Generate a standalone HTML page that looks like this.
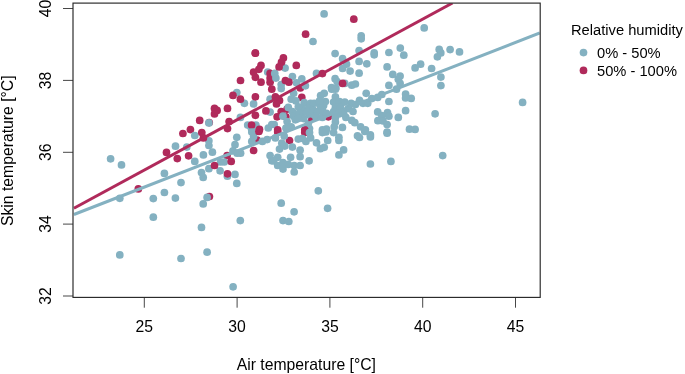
<!DOCTYPE html>
<html><head><meta charset="utf-8"><style>
html,body{margin:0;padding:0;background:#fff;}
body{width:685px;height:374px;overflow:hidden;font-family:"Liberation Sans",sans-serif;}
svg{display:block;will-change:transform;opacity:0.999}
text{font-family:"Liberation Sans",sans-serif;fill:#000}
</style></head><body>
<svg width="685" height="374" viewBox="0 0 685 374">
<defs><clipPath id="c"><rect x="73.4" y="3.2" width="466.4" height="294"/></clipPath></defs>
<g clip-path="url(#c)">
<circle cx="227.4" cy="176.2" r="3.85" fill="#84b1c1"/><circle cx="300.3" cy="88.0" r="3.85" fill="#b02a5b"/><circle cx="209.2" cy="122.6" r="3.85" fill="#b02a5b"/><circle cx="110.6" cy="158.8" r="3.85" fill="#84b1c1"/><circle cx="121.5" cy="164.9" r="3.85" fill="#84b1c1"/><circle cx="175.5" cy="146.2" r="3.85" fill="#84b1c1"/><circle cx="186.8" cy="147.1" r="3.85" fill="#84b1c1"/><circle cx="182.9" cy="133.5" r="3.85" fill="#b02a5b"/><circle cx="190.4" cy="129.6" r="3.85" fill="#b02a5b"/><circle cx="166.5" cy="152.4" r="3.85" fill="#b02a5b"/><circle cx="177.3" cy="158.6" r="3.85" fill="#b02a5b"/><circle cx="188.6" cy="155.8" r="3.85" fill="#b02a5b"/><circle cx="305.6" cy="34.2" r="3.85" fill="#b02a5b"/><circle cx="255.3" cy="53.1" r="3.85" fill="#b02a5b"/><circle cx="324.1" cy="13.9" r="3.85" fill="#84b1c1"/><circle cx="313.0" cy="41.5" r="3.85" fill="#84b1c1"/><circle cx="361.2" cy="35.8" r="3.85" fill="#84b1c1"/><circle cx="361.2" cy="38.8" r="3.85" fill="#84b1c1"/><circle cx="424.2" cy="27.9" r="3.85" fill="#84b1c1"/><circle cx="353.8" cy="19.2" r="3.85" fill="#b02a5b"/><circle cx="439.2" cy="49.4" r="3.85" fill="#84b1c1"/><circle cx="440.8" cy="52.9" r="3.85" fill="#84b1c1"/><circle cx="437.4" cy="56.8" r="3.85" fill="#84b1c1"/><circle cx="450.1" cy="49.6" r="3.85" fill="#84b1c1"/><circle cx="459.5" cy="51.9" r="3.85" fill="#84b1c1"/><circle cx="267.7" cy="72.0" r="3.85" fill="#84b1c1"/><circle cx="255.4" cy="53.2" r="3.85" fill="#b02a5b"/><circle cx="261.0" cy="65.4" r="3.85" fill="#b02a5b"/><circle cx="258.9" cy="69.3" r="3.85" fill="#b02a5b"/><circle cx="253.6" cy="72.2" r="3.85" fill="#b02a5b"/><circle cx="255.4" cy="77.3" r="3.85" fill="#b02a5b"/><circle cx="261.0" cy="82.2" r="3.85" fill="#b02a5b"/><circle cx="240.5" cy="80.5" r="3.85" fill="#b02a5b"/><circle cx="270.1" cy="73.4" r="3.85" fill="#b02a5b"/><circle cx="270.1" cy="78.1" r="3.85" fill="#b02a5b"/><circle cx="270.1" cy="82.2" r="3.85" fill="#b02a5b"/><circle cx="335.1" cy="53.6" r="3.85" fill="#84b1c1"/><circle cx="342.6" cy="58.7" r="3.85" fill="#84b1c1"/><circle cx="346.5" cy="64.2" r="3.85" fill="#84b1c1"/><circle cx="342.6" cy="68.5" r="3.85" fill="#84b1c1"/><circle cx="350.1" cy="71.1" r="3.85" fill="#84b1c1"/><circle cx="285.1" cy="68.1" r="3.85" fill="#84b1c1"/><circle cx="274.8" cy="73.4" r="3.85" fill="#84b1c1"/><circle cx="275.9" cy="78.1" r="3.85" fill="#84b1c1"/><circle cx="292.4" cy="76.6" r="3.85" fill="#84b1c1"/><circle cx="301.8" cy="78.9" r="3.85" fill="#84b1c1"/><circle cx="296.5" cy="82.8" r="3.85" fill="#84b1c1"/><circle cx="281.2" cy="84.6" r="3.85" fill="#84b1c1"/><circle cx="305.4" cy="85.8" r="3.85" fill="#84b1c1"/><circle cx="316.5" cy="73.4" r="3.85" fill="#84b1c1"/><circle cx="335.1" cy="78.7" r="3.85" fill="#84b1c1"/><circle cx="337.1" cy="81.6" r="3.85" fill="#84b1c1"/><circle cx="344.8" cy="83.4" r="3.85" fill="#84b1c1"/><circle cx="331.5" cy="87.5" r="3.85" fill="#84b1c1"/><circle cx="335.9" cy="88.0" r="3.85" fill="#84b1c1"/><circle cx="351.8" cy="85.2" r="3.85" fill="#84b1c1"/><circle cx="283.4" cy="57.9" r="3.85" fill="#b02a5b"/><circle cx="281.5" cy="62.2" r="3.85" fill="#b02a5b"/><circle cx="279.1" cy="66.9" r="3.85" fill="#b02a5b"/><circle cx="296.3" cy="65.4" r="3.85" fill="#b02a5b"/><circle cx="322.4" cy="73.6" r="3.85" fill="#b02a5b"/><circle cx="285.4" cy="80.5" r="3.85" fill="#b02a5b"/><circle cx="288.9" cy="82.2" r="3.85" fill="#b02a5b"/><circle cx="342.6" cy="83.4" r="3.85" fill="#b02a5b"/><circle cx="359.1" cy="50.5" r="3.85" fill="#84b1c1"/><circle cx="374.2" cy="52.8" r="3.85" fill="#84b1c1"/><circle cx="374.2" cy="54.8" r="3.85" fill="#84b1c1"/><circle cx="388.9" cy="52.5" r="3.85" fill="#84b1c1"/><circle cx="400.3" cy="48.1" r="3.85" fill="#84b1c1"/><circle cx="403.8" cy="55.2" r="3.85" fill="#84b1c1"/><circle cx="359.1" cy="61.4" r="3.85" fill="#84b1c1"/><circle cx="366.8" cy="63.8" r="3.85" fill="#84b1c1"/><circle cx="387.1" cy="66.9" r="3.85" fill="#84b1c1"/><circle cx="359.1" cy="73.2" r="3.85" fill="#84b1c1"/><circle cx="355.4" cy="84.0" r="3.85" fill="#84b1c1"/><circle cx="392.8" cy="74.4" r="3.85" fill="#84b1c1"/><circle cx="400.1" cy="76.0" r="3.85" fill="#84b1c1"/><circle cx="398.3" cy="79.3" r="3.85" fill="#84b1c1"/><circle cx="400.1" cy="83.4" r="3.85" fill="#84b1c1"/><circle cx="388.9" cy="85.4" r="3.85" fill="#84b1c1"/><circle cx="415.1" cy="67.9" r="3.85" fill="#84b1c1"/><circle cx="420.6" cy="64.2" r="3.85" fill="#84b1c1"/><circle cx="431.6" cy="68.5" r="3.85" fill="#84b1c1"/><circle cx="236.8" cy="92.5" r="3.85" fill="#84b1c1"/><circle cx="244.4" cy="103.3" r="3.85" fill="#84b1c1"/><circle cx="253.6" cy="103.9" r="3.85" fill="#84b1c1"/><circle cx="240.4" cy="117.4" r="3.85" fill="#84b1c1"/><circle cx="208.9" cy="122.9" r="3.85" fill="#84b1c1"/><circle cx="247.7" cy="125.1" r="3.85" fill="#84b1c1"/><circle cx="255.9" cy="125.1" r="3.85" fill="#84b1c1"/><circle cx="251.6" cy="129.2" r="3.85" fill="#84b1c1"/><circle cx="270.1" cy="112.1" r="3.85" fill="#84b1c1"/><circle cx="270.1" cy="99.2" r="3.85" fill="#84b1c1"/><circle cx="268.3" cy="128.0" r="3.85" fill="#84b1c1"/><circle cx="271.8" cy="124.5" r="3.85" fill="#84b1c1"/><circle cx="233.0" cy="95.4" r="3.85" fill="#b02a5b"/><circle cx="240.4" cy="99.2" r="3.85" fill="#b02a5b"/><circle cx="255.4" cy="96.8" r="3.85" fill="#b02a5b"/><circle cx="214.5" cy="108.4" r="3.85" fill="#b02a5b"/><circle cx="217.1" cy="110.4" r="3.85" fill="#b02a5b"/><circle cx="214.5" cy="113.9" r="3.85" fill="#b02a5b"/><circle cx="227.5" cy="108.4" r="3.85" fill="#b02a5b"/><circle cx="255.4" cy="115.3" r="3.85" fill="#b02a5b"/><circle cx="265.9" cy="110.9" r="3.85" fill="#b02a5b"/><circle cx="199.7" cy="120.4" r="3.85" fill="#b02a5b"/><circle cx="229.1" cy="121.5" r="3.85" fill="#b02a5b"/><circle cx="227.5" cy="128.6" r="3.85" fill="#b02a5b"/><circle cx="251.6" cy="125.1" r="3.85" fill="#b02a5b"/><circle cx="259.5" cy="129.4" r="3.85" fill="#b02a5b"/><circle cx="271.8" cy="89.2" r="3.85" fill="#b02a5b"/><circle cx="301.8" cy="97.4" r="3.85" fill="#b02a5b"/><circle cx="275.4" cy="96.8" r="3.85" fill="#b02a5b"/><circle cx="279.5" cy="100.4" r="3.85" fill="#b02a5b"/><circle cx="276.5" cy="103.9" r="3.85" fill="#b02a5b"/><circle cx="281.2" cy="111.5" r="3.85" fill="#b02a5b"/><circle cx="277.1" cy="116.8" r="3.85" fill="#b02a5b"/><circle cx="285.9" cy="116.8" r="3.85" fill="#b02a5b"/><circle cx="328.3" cy="116.8" r="3.85" fill="#b02a5b"/><circle cx="287.1" cy="109.2" r="3.85" fill="#b02a5b"/><circle cx="281.2" cy="88.6" r="3.85" fill="#84b1c1"/><circle cx="293.6" cy="93.3" r="3.85" fill="#84b1c1"/><circle cx="291.2" cy="99.2" r="3.85" fill="#84b1c1"/><circle cx="295.9" cy="100.9" r="3.85" fill="#84b1c1"/><circle cx="288.3" cy="107.4" r="3.85" fill="#84b1c1"/><circle cx="292.4" cy="111.5" r="3.85" fill="#84b1c1"/><circle cx="293.6" cy="116.2" r="3.85" fill="#84b1c1"/><circle cx="295.4" cy="119.8" r="3.85" fill="#84b1c1"/><circle cx="283.0" cy="116.2" r="3.85" fill="#84b1c1"/><circle cx="287.1" cy="121.5" r="3.85" fill="#84b1c1"/><circle cx="274.2" cy="124.5" r="3.85" fill="#84b1c1"/><circle cx="285.9" cy="128.0" r="3.85" fill="#84b1c1"/><circle cx="291.2" cy="126.8" r="3.85" fill="#84b1c1"/><circle cx="304.2" cy="102.7" r="3.85" fill="#84b1c1"/><circle cx="301.8" cy="108.6" r="3.85" fill="#84b1c1"/><circle cx="301.8" cy="113.9" r="3.85" fill="#84b1c1"/><circle cx="303.6" cy="118.6" r="3.85" fill="#84b1c1"/><circle cx="308.3" cy="123.3" r="3.85" fill="#84b1c1"/><circle cx="309.5" cy="128.6" r="3.85" fill="#84b1c1"/><circle cx="310.6" cy="103.3" r="3.85" fill="#84b1c1"/><circle cx="314.2" cy="103.3" r="3.85" fill="#84b1c1"/><circle cx="308.3" cy="108.6" r="3.85" fill="#84b1c1"/><circle cx="313.0" cy="109.8" r="3.85" fill="#84b1c1"/><circle cx="317.7" cy="111.5" r="3.85" fill="#84b1c1"/><circle cx="315.4" cy="116.2" r="3.85" fill="#84b1c1"/><circle cx="322.4" cy="117.4" r="3.85" fill="#84b1c1"/><circle cx="309.5" cy="115.1" r="3.85" fill="#84b1c1"/><circle cx="320.6" cy="95.6" r="3.85" fill="#84b1c1"/><circle cx="324.2" cy="93.3" r="3.85" fill="#84b1c1"/><circle cx="325.4" cy="101.5" r="3.85" fill="#84b1c1"/><circle cx="323.6" cy="105.6" r="3.85" fill="#84b1c1"/><circle cx="322.4" cy="110.4" r="3.85" fill="#84b1c1"/><circle cx="331.8" cy="89.2" r="3.85" fill="#84b1c1"/><circle cx="335.4" cy="89.2" r="3.85" fill="#84b1c1"/><circle cx="335.4" cy="96.8" r="3.85" fill="#84b1c1"/><circle cx="333.6" cy="102.1" r="3.85" fill="#84b1c1"/><circle cx="339.5" cy="101.5" r="3.85" fill="#84b1c1"/><circle cx="335.4" cy="107.4" r="3.85" fill="#84b1c1"/><circle cx="340.6" cy="107.4" r="3.85" fill="#84b1c1"/><circle cx="333.6" cy="111.5" r="3.85" fill="#84b1c1"/><circle cx="338.9" cy="113.9" r="3.85" fill="#84b1c1"/><circle cx="343.6" cy="113.3" r="3.85" fill="#84b1c1"/><circle cx="335.4" cy="117.4" r="3.85" fill="#84b1c1"/><circle cx="335.4" cy="122.1" r="3.85" fill="#84b1c1"/><circle cx="334.2" cy="126.8" r="3.85" fill="#84b1c1"/><circle cx="342.4" cy="127.4" r="3.85" fill="#84b1c1"/><circle cx="322.4" cy="129.8" r="3.85" fill="#84b1c1"/><circle cx="326.5" cy="129.2" r="3.85" fill="#84b1c1"/><circle cx="351.2" cy="103.3" r="3.85" fill="#84b1c1"/><circle cx="348.3" cy="108.6" r="3.85" fill="#84b1c1"/><circle cx="351.8" cy="120.4" r="3.85" fill="#84b1c1"/><circle cx="277.7" cy="129.8" r="3.85" fill="#b02a5b"/><circle cx="304.8" cy="129.8" r="3.85" fill="#b02a5b"/><circle cx="366.2" cy="93.3" r="3.85" fill="#84b1c1"/><circle cx="359.5" cy="100.4" r="3.85" fill="#84b1c1"/><circle cx="355.4" cy="104.5" r="3.85" fill="#84b1c1"/><circle cx="363.0" cy="103.3" r="3.85" fill="#84b1c1"/><circle cx="367.7" cy="103.3" r="3.85" fill="#84b1c1"/><circle cx="371.8" cy="98.6" r="3.85" fill="#84b1c1"/><circle cx="377.7" cy="97.4" r="3.85" fill="#84b1c1"/><circle cx="381.8" cy="94.5" r="3.85" fill="#84b1c1"/><circle cx="396.5" cy="89.2" r="3.85" fill="#84b1c1"/><circle cx="388.9" cy="101.5" r="3.85" fill="#84b1c1"/><circle cx="405.6" cy="94.1" r="3.85" fill="#84b1c1"/><circle cx="405.6" cy="98.0" r="3.85" fill="#84b1c1"/><circle cx="411.2" cy="98.4" r="3.85" fill="#84b1c1"/><circle cx="405.6" cy="110.7" r="3.85" fill="#84b1c1"/><circle cx="398.3" cy="117.4" r="3.85" fill="#84b1c1"/><circle cx="377.7" cy="111.9" r="3.85" fill="#84b1c1"/><circle cx="387.5" cy="112.7" r="3.85" fill="#84b1c1"/><circle cx="381.8" cy="115.6" r="3.85" fill="#84b1c1"/><circle cx="388.9" cy="116.2" r="3.85" fill="#84b1c1"/><circle cx="377.9" cy="120.7" r="3.85" fill="#84b1c1"/><circle cx="383.0" cy="120.9" r="3.85" fill="#84b1c1"/><circle cx="387.1" cy="124.5" r="3.85" fill="#84b1c1"/><circle cx="353.0" cy="111.5" r="3.85" fill="#84b1c1"/><circle cx="354.8" cy="122.7" r="3.85" fill="#84b1c1"/><circle cx="360.6" cy="126.8" r="3.85" fill="#84b1c1"/><circle cx="365.4" cy="129.8" r="3.85" fill="#84b1c1"/><circle cx="387.1" cy="132.0" r="3.85" fill="#84b1c1"/><circle cx="409.5" cy="129.2" r="3.85" fill="#84b1c1"/><circle cx="415.1" cy="129.4" r="3.85" fill="#84b1c1"/><circle cx="435.1" cy="113.8" r="3.85" fill="#84b1c1"/><circle cx="257.1" cy="140.0" r="3.85" fill="#b02a5b"/><circle cx="227.1" cy="155.5" r="3.85" fill="#b02a5b"/><circle cx="194.8" cy="135.5" r="3.85" fill="#84b1c1"/><circle cx="208.9" cy="140.8" r="3.85" fill="#84b1c1"/><circle cx="208.9" cy="145.5" r="3.85" fill="#84b1c1"/><circle cx="236.8" cy="137.3" r="3.85" fill="#84b1c1"/><circle cx="235.0" cy="144.7" r="3.85" fill="#84b1c1"/><circle cx="233.0" cy="150.8" r="3.85" fill="#84b1c1"/><circle cx="237.1" cy="153.2" r="3.85" fill="#84b1c1"/><circle cx="240.6" cy="153.2" r="3.85" fill="#84b1c1"/><circle cx="253.6" cy="136.7" r="3.85" fill="#84b1c1"/><circle cx="251.8" cy="141.4" r="3.85" fill="#84b1c1"/><circle cx="262.4" cy="141.4" r="3.85" fill="#84b1c1"/><circle cx="267.1" cy="139.6" r="3.85" fill="#84b1c1"/><circle cx="212.4" cy="152.2" r="3.85" fill="#84b1c1"/><circle cx="203.4" cy="154.9" r="3.85" fill="#84b1c1"/><circle cx="194.8" cy="161.4" r="3.85" fill="#84b1c1"/><circle cx="220.6" cy="162.0" r="3.85" fill="#84b1c1"/><circle cx="224.2" cy="162.0" r="3.85" fill="#84b1c1"/><circle cx="208.9" cy="168.7" r="3.85" fill="#84b1c1"/><circle cx="220.1" cy="170.8" r="3.85" fill="#84b1c1"/><circle cx="201.5" cy="172.6" r="3.85" fill="#84b1c1"/><circle cx="235.0" cy="174.4" r="3.85" fill="#84b1c1"/><circle cx="270.1" cy="155.5" r="3.85" fill="#84b1c1"/><circle cx="271.8" cy="160.8" r="3.85" fill="#84b1c1"/><circle cx="251.8" cy="132.0" r="3.85" fill="#84b1c1"/><circle cx="201.8" cy="132.6" r="3.85" fill="#b02a5b"/><circle cx="203.4" cy="137.9" r="3.85" fill="#b02a5b"/><circle cx="253.6" cy="150.5" r="3.85" fill="#b02a5b"/><circle cx="231.2" cy="161.4" r="3.85" fill="#b02a5b"/><circle cx="214.5" cy="165.5" r="3.85" fill="#b02a5b"/><circle cx="227.5" cy="173.8" r="3.85" fill="#b02a5b"/><circle cx="258.9" cy="131.4" r="3.85" fill="#b02a5b"/><circle cx="277.7" cy="132.0" r="3.85" fill="#b02a5b"/><circle cx="304.8" cy="132.6" r="3.85" fill="#b02a5b"/><circle cx="289.5" cy="140.5" r="3.85" fill="#b02a5b"/><circle cx="275.4" cy="137.9" r="3.85" fill="#84b1c1"/><circle cx="284.2" cy="136.1" r="3.85" fill="#84b1c1"/><circle cx="281.8" cy="143.2" r="3.85" fill="#84b1c1"/><circle cx="279.5" cy="149.1" r="3.85" fill="#84b1c1"/><circle cx="284.8" cy="146.1" r="3.85" fill="#84b1c1"/><circle cx="292.4" cy="147.1" r="3.85" fill="#84b1c1"/><circle cx="298.3" cy="139.1" r="3.85" fill="#84b1c1"/><circle cx="302.4" cy="138.5" r="3.85" fill="#84b1c1"/><circle cx="305.9" cy="141.4" r="3.85" fill="#84b1c1"/><circle cx="310.6" cy="137.9" r="3.85" fill="#84b1c1"/><circle cx="309.5" cy="132.6" r="3.85" fill="#84b1c1"/><circle cx="316.5" cy="142.8" r="3.85" fill="#84b1c1"/><circle cx="320.4" cy="148.7" r="3.85" fill="#84b1c1"/><circle cx="324.2" cy="147.3" r="3.85" fill="#84b1c1"/><circle cx="327.7" cy="140.5" r="3.85" fill="#84b1c1"/><circle cx="322.4" cy="132.6" r="3.85" fill="#84b1c1"/><circle cx="325.9" cy="132.0" r="3.85" fill="#84b1c1"/><circle cx="333.6" cy="132.6" r="3.85" fill="#84b1c1"/><circle cx="338.9" cy="137.3" r="3.85" fill="#84b1c1"/><circle cx="338.9" cy="140.5" r="3.85" fill="#84b1c1"/><circle cx="343.6" cy="149.9" r="3.85" fill="#84b1c1"/><circle cx="338.9" cy="154.9" r="3.85" fill="#84b1c1"/><circle cx="300.1" cy="150.2" r="3.85" fill="#84b1c1"/><circle cx="300.1" cy="156.7" r="3.85" fill="#84b1c1"/><circle cx="309.1" cy="160.8" r="3.85" fill="#84b1c1"/><circle cx="290.6" cy="157.3" r="3.85" fill="#84b1c1"/><circle cx="277.7" cy="157.3" r="3.85" fill="#84b1c1"/><circle cx="273.6" cy="160.8" r="3.85" fill="#84b1c1"/><circle cx="277.7" cy="165.5" r="3.85" fill="#84b1c1"/><circle cx="283.0" cy="162.6" r="3.85" fill="#84b1c1"/><circle cx="288.3" cy="164.4" r="3.85" fill="#84b1c1"/><circle cx="283.0" cy="169.1" r="3.85" fill="#84b1c1"/><circle cx="294.2" cy="165.5" r="3.85" fill="#84b1c1"/><circle cx="300.1" cy="165.5" r="3.85" fill="#84b1c1"/><circle cx="294.2" cy="172.0" r="3.85" fill="#84b1c1"/><circle cx="357.5" cy="135.8" r="3.85" fill="#84b1c1"/><circle cx="359.5" cy="137.5" r="3.85" fill="#84b1c1"/><circle cx="370.4" cy="134.9" r="3.85" fill="#84b1c1"/><circle cx="370.4" cy="136.9" r="3.85" fill="#84b1c1"/><circle cx="387.1" cy="133.2" r="3.85" fill="#84b1c1"/><circle cx="364.8" cy="131.4" r="3.85" fill="#84b1c1"/><circle cx="370.4" cy="164.0" r="3.85" fill="#84b1c1"/><circle cx="390.9" cy="161.4" r="3.85" fill="#84b1c1"/><circle cx="209.4" cy="196.5" r="3.85" fill="#b02a5b"/><circle cx="203.2" cy="177.4" r="3.85" fill="#84b1c1"/><circle cx="236.8" cy="183.4" r="3.85" fill="#84b1c1"/><circle cx="207.1" cy="197.4" r="3.85" fill="#84b1c1"/><circle cx="203.2" cy="203.9" r="3.85" fill="#84b1c1"/><circle cx="201.5" cy="227.4" r="3.85" fill="#84b1c1"/><circle cx="240.3" cy="220.6" r="3.85" fill="#84b1c1"/><circle cx="281.2" cy="203.2" r="3.85" fill="#84b1c1"/><circle cx="294.1" cy="211.8" r="3.85" fill="#84b1c1"/><circle cx="283.0" cy="220.6" r="3.85" fill="#84b1c1"/><circle cx="288.8" cy="221.5" r="3.85" fill="#84b1c1"/><circle cx="318.3" cy="190.8" r="3.85" fill="#84b1c1"/><circle cx="327.6" cy="208.3" r="3.85" fill="#84b1c1"/><circle cx="440.9" cy="77.1" r="3.85" fill="#84b1c1"/><circle cx="440.9" cy="85.6" r="3.85" fill="#84b1c1"/><circle cx="522.6" cy="102.4" r="3.85" fill="#84b1c1"/><circle cx="442.7" cy="155.6" r="3.85" fill="#84b1c1"/><circle cx="138.3" cy="188.9" r="3.85" fill="#b02a5b"/><circle cx="119.8" cy="198.3" r="3.85" fill="#84b1c1"/><circle cx="153.3" cy="198.6" r="3.85" fill="#84b1c1"/><circle cx="164.4" cy="192.5" r="3.85" fill="#84b1c1"/><circle cx="164.4" cy="173.4" r="3.85" fill="#84b1c1"/><circle cx="181.0" cy="182.6" r="3.85" fill="#84b1c1"/><circle cx="175.4" cy="198.1" r="3.85" fill="#84b1c1"/><circle cx="153.3" cy="217.2" r="3.85" fill="#84b1c1"/><circle cx="119.8" cy="254.9" r="3.85" fill="#84b1c1"/><circle cx="181.0" cy="258.5" r="3.85" fill="#84b1c1"/><circle cx="207.1" cy="252.2" r="3.85" fill="#84b1c1"/><circle cx="233.1" cy="286.8" r="3.85" fill="#84b1c1"/><circle cx="298.3" cy="106.8" r="3.85" fill="#84b1c1"/><circle cx="298.9" cy="113.3" r="3.85" fill="#84b1c1"/><circle cx="298.3" cy="118.6" r="3.85" fill="#84b1c1"/><circle cx="320.1" cy="105.6" r="3.85" fill="#84b1c1"/><circle cx="307.1" cy="112.1" r="3.85" fill="#84b1c1"/><circle cx="319.5" cy="100.9" r="3.85" fill="#84b1c1"/><circle cx="311.8" cy="117.4" r="3.85" fill="#84b1c1"/><circle cx="326.5" cy="113.3" r="3.85" fill="#84b1c1"/><circle cx="344.8" cy="102.1" r="3.85" fill="#84b1c1"/><circle cx="345.9" cy="117.4" r="3.85" fill="#84b1c1"/><circle cx="310.4" cy="119.8" r="2.30" fill="#b02a5b"/>
<line x1="73.9" y1="214.5" x2="539.8" y2="33" stroke="#84b1c1" stroke-width="3"/>
<line x1="73.9" y1="208.3" x2="452.5" y2="3" stroke="#b02a5b" stroke-width="3"/>
</g>
<rect x="73" y="3.1" width="467.2" height="294.3" fill="none" stroke="#262626" stroke-width="1.15"/>
<g stroke="#262626" stroke-width="0.85">
<line x1="144.3" y1="297.4" x2="144.3" y2="307.7"/><line x1="237.1" y1="297.4" x2="237.1" y2="307.7"/><line x1="329.9" y1="297.4" x2="329.9" y2="307.7"/><line x1="422.7" y1="297.4" x2="422.7" y2="307.7"/><line x1="515.5" y1="297.4" x2="515.5" y2="307.7"/><line x1="63" y1="296.0" x2="73" y2="296.0"/><line x1="63" y1="224.1" x2="73" y2="224.1"/><line x1="63" y1="152.3" x2="73" y2="152.3"/><line x1="63" y1="80.4" x2="73" y2="80.4"/><line x1="63" y1="8.5" x2="73" y2="8.5"/></g>
<g font-size="15.75" text-anchor="middle">
<text x="144.3" y="332">25</text><text x="237.1" y="332">30</text><text x="329.9" y="332">35</text><text x="422.7" y="332">40</text><text x="515.5" y="332">45</text><text transform="translate(50.5,296.0) rotate(-90)">32</text><text transform="translate(50.5,224.1) rotate(-90)">34</text><text transform="translate(50.5,152.3) rotate(-90)">36</text><text transform="translate(50.5,80.4) rotate(-90)">38</text><text transform="translate(50.5,8.5) rotate(-90)">40</text>
<text x="306.3" y="369.7">Air temperature [°C]</text>
<text transform="translate(12.6,150.75) rotate(-90)">Skin temperature [°C]</text>
</g>
<g font-size="14.7">
<text x="571" y="34.8">Relative humidity</text>
<text x="597" y="57.6">0% - 50%</text>
<text x="597" y="75.6">50% - 100%</text>
</g>
<circle cx="583.5" cy="52.6" r="3.85" fill="#84b1c1"/>
<circle cx="583.5" cy="70.4" r="3.85" fill="#b02a5b"/>
</svg>
</body></html>
